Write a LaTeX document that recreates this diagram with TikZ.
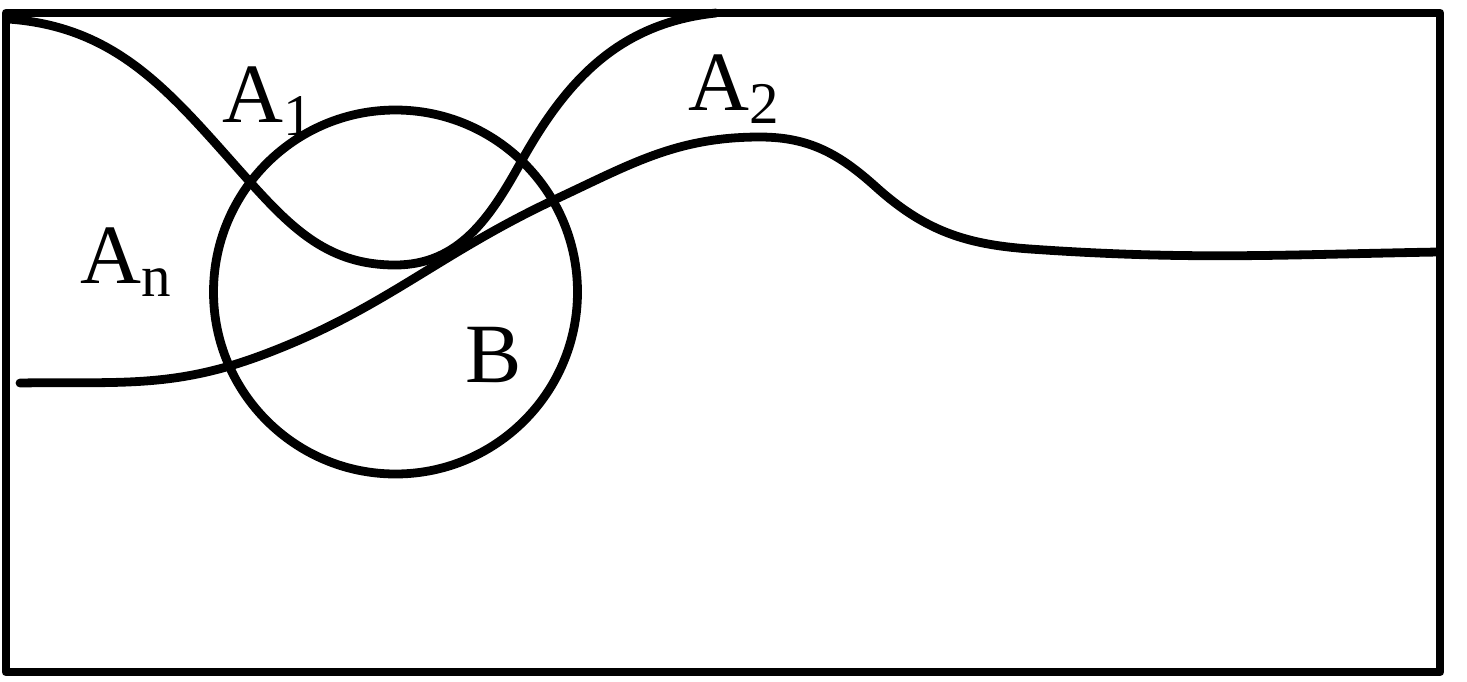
\documentclass[tikz,border=0pt]{standalone}
\usepackage{fontspec}
\setmainfont{Liberation Serif}
\tikzset{
    setline/.style={line width=2.5pt, line join=round, line cap=round},
    setlabel/.style={anchor=base west, inner sep=0pt, font=\fontsize{24}{28}\selectfont}
}
\begin{document}
\begin{tikzpicture}[x=0.01cm, y=-0.01cm]

    \useasboundingbox (0,0) rectangle (1467,681);

    \draw[setline] (6,13) rectangle (1440,672);

    \draw[setline] (395.5,292) circle[radius=182];

    % boundary between A1 and A2
    \draw[setline] (8,19) to[out=-4, in=132] (250,182)
                          to[out=-48, in=180] (395,265)
                          to[out=0, in=-119] (521,162)
                          to[out=61, in=186] (716,13);

    % boundary between An and the rest
    \draw[setline] (20,383) to[out=1, in=200] (257,357)
                            to[out=20, in=205] (556,199)
                            to[out=25, in=180] (760,137)
                            to[out=0, in=138] (876,187)
                            to[out=-42, in=176] (1030,249)
                            to[out=-4, in=181] (1438,252);

    \node[setlabel] (a1) at (222,122) {A\textsubscript{1}};
    \node[setlabel] (a2) at (688,110) {A\textsubscript{2}};
    \node[setlabel] (an) at (80,283)  {A\textsubscript{n}};
    \node[setlabel] (b)  at (465,382) {B};

\end{tikzpicture}
\end{document}
